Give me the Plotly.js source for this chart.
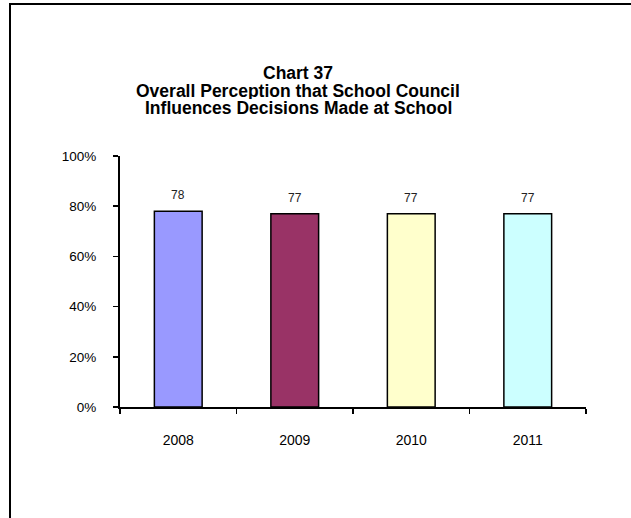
<!DOCTYPE html>
<html>
<head>
<meta charset="utf-8">
<script src="https://cdn.plot.ly/plotly-3.0.1.min.js"></script>
<style>html,body{margin:0;padding:0;background:#fff;}#chart{width:631px;height:518px;}</style>
</head>
<body>
<div id="chart"></div>
<script>
const years = ['2008', '2009', '2010', '2011'];
const values = [78, 77, 77, 77];
const labels = ['78', '77', '77', '77'];
const barColors = ['#9999FF', '#993366', '#FFFFCC', '#CCFFFF'];
const yTicks = [0, 20, 40, 60, 80, 100];
const yTickText = ['0%', '20%', '40%', '60%', '80%', '100%'];
const titleLines = ['Chart 37', 'Overall Perception that School Council', 'Influences Decisions Made at School'];

const FONT = '"Liberation Sans", Arial, sans-serif';

const trace = {
  type: 'bar',
  x: years,
  y: values,
  marker: { color: barColors, line: { color: '#000000', width: 1.5 } },
  hoverinfo: 'skip'
};

const annotations = years.map((yr, i) => ({
  x: i, y: values[i], xref: 'x', yref: 'y',
  text: labels[i], showarrow: false,
  yanchor: 'middle', yshift: 16,
  font: { family: FONT, size: 12, color: '#222222' }
}));

titleLines.forEach((t, i) => {
  annotations.push({
    xref: 'paper', yref: 'paper',
    x: (298 - 120) / 466, xanchor: 'center',
    y: (407 - (72 + i * 18)) / 251, yanchor: 'middle',
    height: 17, valign: 'middle',
    text: '<b>' + t + '</b>', showarrow: false,
    font: { family: FONT, size: 17.5, color: '#000000' }
  });
});

const layout = {
  width: 631, height: 518,
  margin: { l: 120, r: 45, t: 156, b: 111 },
  paper_bgcolor: '#ffffff', plot_bgcolor: '#ffffff',
  showlegend: false,
  bargap: 0.59,
  font: { family: FONT, size: 12, color: '#000000' },
  xaxis: {
    type: 'category',
    range: [-0.5, 3.5],
    showline: true, linecolor: '#000000', linewidth: 2,
    ticks: 'outside', tickson: 'boundaries', ticklen: 5, tickwidth: 1.5, tickcolor: '#000000',
    showgrid: false, zeroline: false,
    ticklabelstandoff: 19,
    tickfont: { family: FONT, size: 14, color: '#000000' },
    fixedrange: true
  },
  yaxis: {
    range: [0, 100],
    tickvals: yTicks, ticktext: yTickText,
    showline: true, linecolor: '#000000', linewidth: 2,
    ticks: 'outside', ticklen: 5, tickwidth: 1.5, tickcolor: '#000000',
    showgrid: false, zeroline: false,
    ticklabelstandoff: 14,
    tickfont: { family: FONT, size: 13.5, color: '#000000' },
    fixedrange: true
  },
  annotations: annotations,
  shapes: [{
    type: 'rect', xref: 'paper', yref: 'paper',
    x0: (10 - 120) / 466, x1: 3,
    y0: -3, y1: (407 - 4) / 251,
    line: { color: '#000000', width: 2 },
    fillcolor: 'rgba(0,0,0,0)',
    layer: 'above'
  }]
};

Plotly.newPlot('chart', [trace], layout, { displayModeBar: false, staticPlot: true });
</script>
</body>
</html>
